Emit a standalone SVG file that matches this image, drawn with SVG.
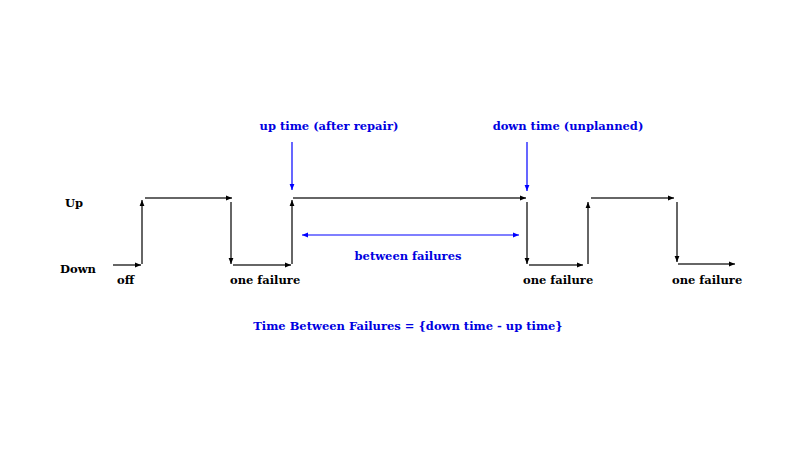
<svg xmlns="http://www.w3.org/2000/svg" width="800" height="450" viewBox="0 0 800 450">
<defs>
<style>
.t{font-family:"DejaVu Serif","Liberation Serif",serif;font-weight:bold;font-size:11.5px;fill:#000}
.b{fill:#0000e0}
.k{stroke:#333;stroke-width:1.5;fill:none;marker-end:url(#ak)}
.u{stroke:#0000ff;stroke-width:1.2;fill:none;marker-end:url(#ab)}
</style>
<marker id="ak" viewBox="0 0 10 10" refX="10" refY="5" markerWidth="6" markerHeight="6" orient="auto" markerUnits="userSpaceOnUse"><path d="M0,1 L10,5 L0,9 Z" fill="#000"/></marker>
<marker id="ab" viewBox="0 0 10 10" refX="10" refY="5" markerWidth="6" markerHeight="6" orient="auto-start-reverse" markerUnits="userSpaceOnUse"><path d="M0,1 L10,5 L0,9 Z" fill="#0000ff"/></marker>
</defs>
<rect width="800" height="450" fill="#fff"/>
<g id="labels">
<text class="t" x="65" y="207">Up</text>
<text class="t" x="60" y="273">Down</text>
<text class="t" x="117" y="284">off</text>
<text class="t" x="230" y="284">one failure</text>
<text class="t" x="523" y="284">one failure</text>
<text class="t" x="672" y="284">one failure</text>
<text class="t b" x="329" y="130" text-anchor="middle">up time (after repair)</text>
<text class="t b" x="568" y="130" text-anchor="middle">down time (unplanned)</text>
<text class="t b" x="408" y="260" text-anchor="middle">between failures</text>
<text class="t b" x="408" y="330" text-anchor="middle">Time Between Failures = {down time - up time}</text>
</g>
<g id="connectors">
<line class="k" x1="113" y1="265" x2="141" y2="265"/>
<line class="k" x1="142" y1="264" x2="142" y2="200"/>
<line class="k" x1="145" y1="198" x2="232" y2="198"/>
<line class="k" x1="231" y1="202" x2="231" y2="264"/>
<line class="k" x1="233" y1="265" x2="291" y2="265"/>
<line class="k" x1="292" y1="264" x2="292" y2="200"/>
<line class="k" x1="293" y1="198" x2="526" y2="198"/>
<line class="k" x1="527" y1="202" x2="527" y2="264"/>
<line class="k" x1="529" y1="265" x2="583" y2="265"/>
<line class="k" x1="588" y1="264" x2="588" y2="202"/>
<line class="k" x1="591" y1="198" x2="674" y2="198"/>
<line class="k" x1="677" y1="202" x2="677" y2="262"/>
<line class="k" x1="678" y1="264" x2="735" y2="264"/>
<line class="u" x1="292" y1="142" x2="292" y2="190"/>
<line class="u" x1="527" y1="142" x2="527" y2="191"/>
<line class="u" x1="302" y1="235" x2="519" y2="235" marker-start="url(#ab)"/>
</g>
</svg>
